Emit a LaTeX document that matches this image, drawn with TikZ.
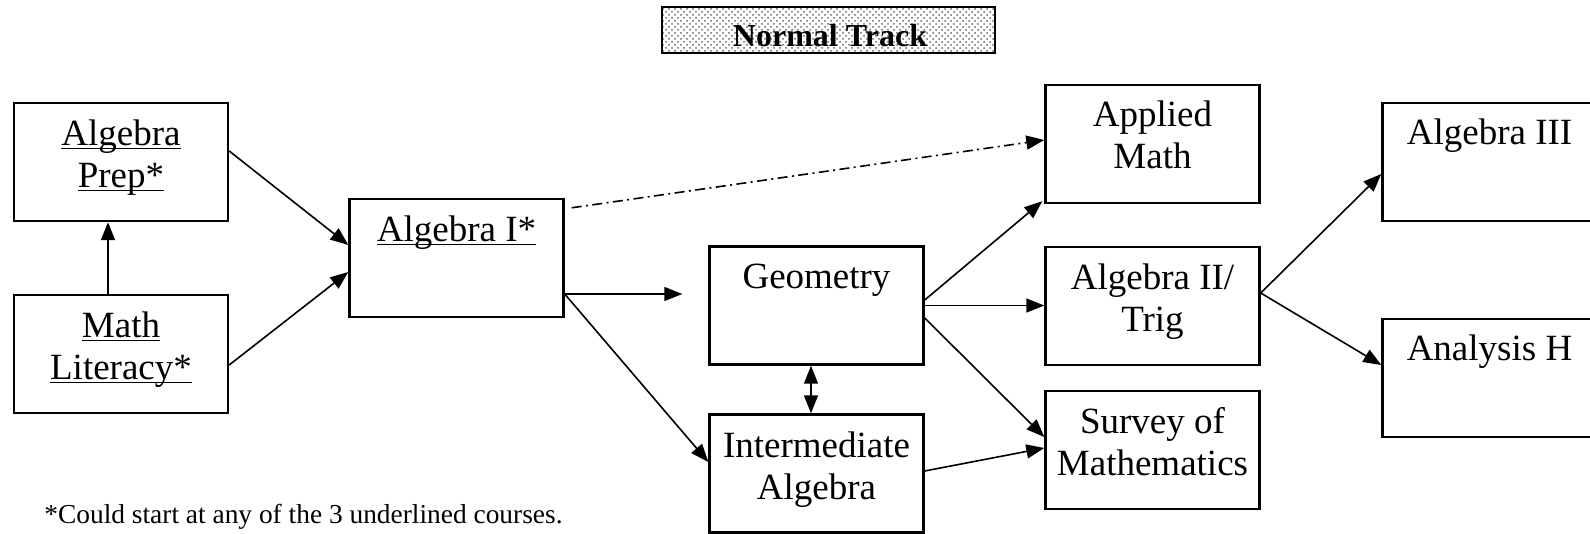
\documentclass[tikz,border=0pt]{standalone}
\usepackage{fontspec}
\setmainfont{Liberation Serif}
\usetikzlibrary{arrows.meta,patterns,calc}
\newcommand{\ulin}[1]{\setbox0\hbox{#1}\rlap{\rule[-1.8pt]{\wd0}{0.8pt}}\box0}
\begin{document}
\begin{tikzpicture}[x=0.5pt,y=-0.5pt,
  box/.style={draw, line width=1.2pt, minimum width=107pt, minimum height=59pt, inner sep=0pt},
  lbl/.style={anchor=base, align=center, inner sep=0pt, font=\fontsize{18.5}{21}\selectfont},
  arr/.style={line width=0.8pt, -{Triangle[length=9pt,width=7pt]}},
  darr/.style={line width=0.8pt, {Triangle[length=9pt,width=7pt]}-{Triangle[length=9pt,width=7pt]}},
  dasharr/.style={arr, dash pattern=on 5pt off 2.2pt on 1pt off 2.2pt}]
\clip (0,0) rectangle (1590,534);

% title
\node[draw, line width=1.2pt, minimum width=166.5pt, minimum height=23pt, inner sep=0pt,
      pattern=crosshatch dots, pattern color=black!60] (title) at (828.5,30) {};
\node[anchor=base, inner sep=0pt, font=\fontsize{16}{18}\selectfont\bfseries] (titletxt) at (830,47) {Normal Track};

% boxes
\node[box] (ap) at (121,162) {};
\node[box] (ml) at (121,354) {};
\node[box] (a1) at (456.5,258) {};
\node[box] (geo) at (816.5,305.5) {};
\node[box] (ia) at (816.5,473.5) {};
\node[box] (am) at (1152.5,144) {};
\node[box] (a2) at (1152.5,306) {};
\node[box] (sm) at (1152.5,450) {};
\node[box] (a3) at (1489.5,162) {};
\node[box] (ah) at (1489.5,378) {};

% labels (base anchor = baseline of the last line)
\node[lbl] (apt) at ($(ap.north)+(0,86)$) {\ulin{Algebra}\\\ulin{Prep*}};
\node[lbl] (mlt) at ($(ml.north)+(0,86)$) {\ulin{Math}\\\ulin{Literacy*}};
\node[lbl] (a1t) at ($(a1.north)+(0,44)$) {\ulin{Algebra I*}};
\node[lbl] (geot) at ($(geo.north)+(0,43)$) {Geometry};
\node[lbl] (iat) at ($(ia.north)+(0,86)$) {Intermediate\\Algebra};
\node[lbl] (amt) at ($(am.north)+(0,85)$) {Applied\\Math};
\node[lbl] (a2t) at ($(a2.north)+(0,86)$) {Algebra II/\\Trig};
\node[lbl] (smt) at ($(sm.north)+(0,86)$) {Survey of\\Mathematics};
\node[lbl] (a3t) at ($(a3.north)+(0,43)$) {Algebra III};
\node[lbl] (aht) at ($(ah.north)+(0,43)$) {Analysis H};

% footnote
\node[anchor=base west, inner sep=0pt, font=\fontsize{13.7}{16}\selectfont] (note) at (44,523) {*Could start at any of the 3 underlined courses.};

% connectors
\draw[arr] ($(ap.east)+(0,-11)$) -- ($(a1.west)+(0,-13)$);
\draw[arr] ($(ml.east)+(0,11)$) -- ($(a1.west)+(0,14)$);
\draw[arr] ($(ml.north)+(-13,0)$) -- ($(ap.south)+(-13,0)$);
\draw[dasharr] ($(a1.north east)+(7,10)$) -- ($(am.west)+(0,-4)$);
\draw[arr] ($(a1.east)+(0,36)$) -- ($(geo.west)+(-26,-11.5)$);
\draw[arr] ($(a1.east)+(0,36)$) -- ($(ia.west)+(0,-11.5)$);
\draw[arr] ($(geo.east)+(0,-5.5)$) -- ($(am.south west)+(-2,-3)$);
\draw[arr] (geo.east) -- (geo.east -| a2.west);
\draw[arr] ($(geo.east)+(0,12.5)$) -- ($(sm.west)+(0,-13)$);
\draw[arr] ($(ia.east)+(0,-2.5)$) -- ($(sm.west)+(0,-2)$);
\draw[darr] ($(geo.south)+(-5.5,0)$) -- ($(ia.north)+(-5.5,0)$);
\draw[arr] ($(a2.east)+(0,-13)$) -- ($(a3.west)+(0,12)$);
\draw[arr] ($(a2.east)+(0,-13)$) -- ($(ah.west)+(0,-13)$);
\end{tikzpicture}
\end{document}
